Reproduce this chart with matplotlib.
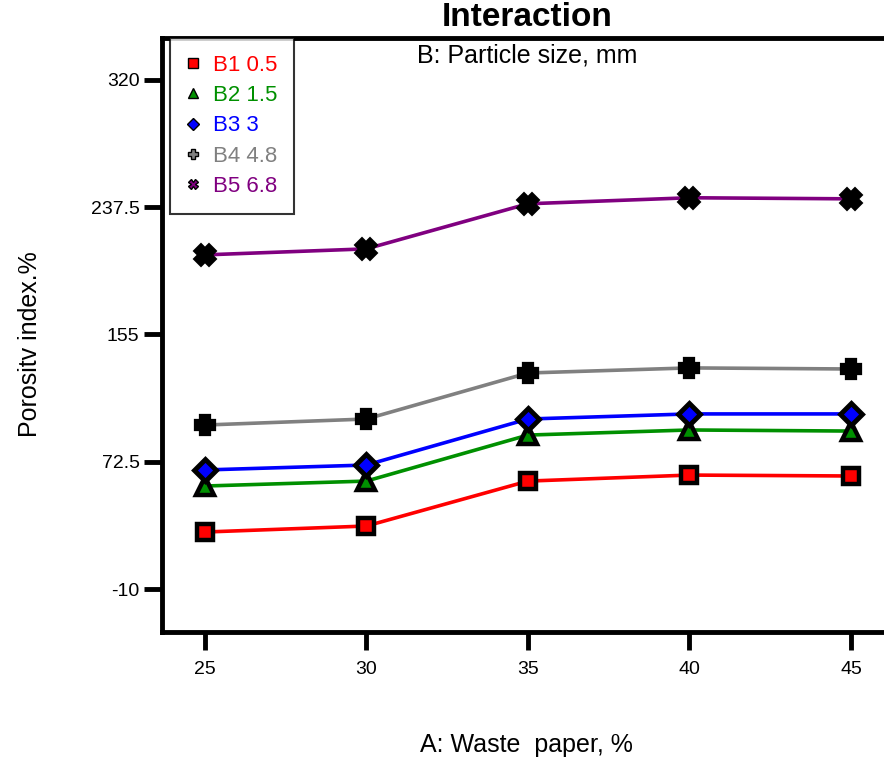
import matplotlib.pyplot as plt

waste_paper = [25, 30, 35, 40, 45]
series_names = ['B1 0.5', 'B2 1.5', 'B3 3', 'B4 4.8', 'B5 6.8']
b1 = [27.0, 30.9, 60.0, 63.9, 63.3]
b2 = [56.8, 60.0, 89.8, 93.1, 92.4]
b3 = [67.2, 70.4, 100.2, 103.5, 103.5]
b4 = [96.3, 100.2, 130.0, 133.3, 132.6]
b5 = [206.5, 210.4, 239.6, 243.5, 242.8]
yticks = [-10, 72.5, 155, 237.5, 320]
ytick_labels = ['-10', '72.5', '155', '237.5', '320']

colors = ['#ff0000', '#009000', '#0000ff', '#808080', '#800080']
markers = ['s', '^', 'D', 'P', 'X']
sizes = [12, 13, 11, 11, 11]
edge_widths = [3.2, 3.2, 3.5, 4.5, 4.5]

plt.rcParams['font.family'] = ['Liberation Sans', 'DejaVu Sans']

fig = plt.figure(figsize=(8.84, 7.59), dpi=100)
ax = fig.add_axes([0.183, 0.167, 0.817, 0.783])

for vals, name, c, m, s, ew in zip([b1, b2, b3, b4, b5], series_names, colors,
                                   markers, sizes, edge_widths):
    ax.plot(waste_paper, vals, color=c, lw=2.6, marker=m, markersize=s,
            markerfacecolor=c, markeredgecolor='black', markeredgewidth=ew,
            label=name)

ax.set_xlim(23.67, 46.02)
ax.set_ylim(-37.9, 347)
ax.set_xticks(waste_paper)
ax.set_xticklabels([str(v) for v in waste_paper], fontsize=14)
ax.set_yticks(yticks)
ax.set_yticklabels(ytick_labels, fontsize=14)
ax.tick_params(direction='out', length=13, width=3.5, pad=3)
ax.tick_params(axis='x', pad=8)

for side in ['left', 'bottom', 'top']:
    ax.spines[side].set_linewidth(3.5)
ax.spines['right'].set_visible(False)

fig.text(0.596, 1 - 745 / 759, 'A: Waste  paper, %', ha='center', va='center',
         fontsize=18)
fig.text(30 / 884, 1 - 344 / 759, 'Porositv index.%', ha='center', va='center',
         rotation=90, fontsize=18)

fig.text(0.596, 1 - 18 / 759, 'Interaction', ha='center', va='center',
         fontsize=24, fontweight='bold')
fig.text(0.596, 1 - 55 / 759, 'B: Particle size, mm', ha='center', va='center',
         fontsize=18)

leg = ax.legend(loc='upper left', bbox_to_anchor=(0.011, 1.0), fontsize=16,
                frameon=True, fancybox=False, edgecolor='black',
                handlelength=0.6, handletextpad=0.6, borderpad=0.75,
                borderaxespad=0.0, labelspacing=0.42, markerscale=0.6)
leg.get_frame().set_linewidth(1.5)
for text, c in zip(leg.get_texts(), colors):
    text.set_color(c)
for h in leg.legend_handles:
    h.set_linestyle('none')
    h.set_markeredgewidth(1.0)

fig.savefig('out.png', dpi=100)
